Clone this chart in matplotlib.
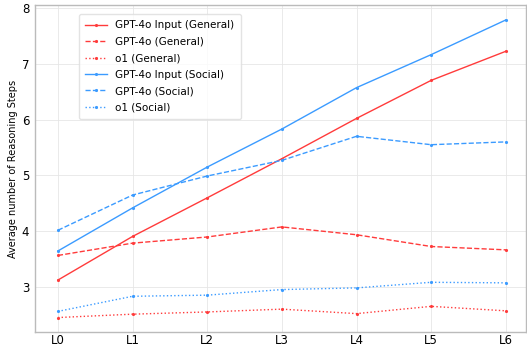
import matplotlib
matplotlib.use('Agg')
import matplotlib.pyplot as plt

levels = ['L0', 'L1', 'L2', 'L3', 'L4', 'L5', 'L6']

gpt4o_input_general = [3.13, 3.91, 4.60, 5.30, 6.02, 6.70, 7.22]
gpt4o_general = [3.57, 3.79, 3.90, 4.08, 3.94, 3.73, 3.67]
o1_general = [2.46, 2.52, 2.56, 2.61, 2.53, 2.66, 2.58]
gpt4o_input_social = [3.65, 4.42, 5.15, 5.83, 6.57, 7.16, 7.78]
gpt4o_social = [4.02, 4.65, 4.99, 5.27, 5.70, 5.55, 5.60]
o1_social = [2.57, 2.84, 2.86, 2.96, 2.99, 3.09, 3.08]

red = '#ff3b3b'
blue = '#3b9bff'

fig = plt.figure(figsize=(5.27, 3.47), dpi=100)
ax = fig.add_axes([0.066, 0.043, 0.932, 0.943])

x = range(len(levels))
ax.plot(x, gpt4o_input_general, color=red, ls='-', marker='.', ms=2.5, lw=1.0,
        label='GPT-4o Input (General)')
ax.plot(x, gpt4o_general, color=red, ls='--', marker='.', ms=2.5, lw=1.0,
        label='GPT-4o (General)')
ax.plot(x, o1_general, color=red, ls=':', marker='.', ms=2.5, lw=1.0,
        label='o1 (General)')
ax.plot(x, gpt4o_input_social, color=blue, ls='-', marker='.', ms=2.5, lw=1.0,
        label='GPT-4o Input (Social)')
ax.plot(x, gpt4o_social, color=blue, ls='--', marker='.', ms=2.5, lw=1.0,
        label='GPT-4o (Social)')
ax.plot(x, o1_social, color=blue, ls=':', marker='.', ms=2.5, lw=1.0,
        label='o1 (Social)')

ax.set_xticks(list(x))
ax.set_xticklabels(levels)
ax.set_yticks([3, 4, 5, 6, 7, 8])
ax.set_xlim(-0.31, 6.27)
ax.set_ylim(2.2, 8.05)
ax.set_ylabel('Average number of Reasoning Steps', fontsize=7, labelpad=3)
ax.tick_params(axis='both', length=0, labelsize=8.5)
ax.tick_params(axis='x', pad=1.5)
ax.tick_params(axis='y', pad=4)
ax.grid(True, color='#e6e6e6', lw=0.6)
for s in ax.spines.values():
    s.set_color('#bbbbbb')
    s.set_linewidth(1.0)

ax.legend(loc='upper left', bbox_to_anchor=(0.079, 0.988), fontsize=7.5,
          frameon=True, edgecolor='#dddddd', handlelength=2.1,
          labelspacing=0.62, borderpad=0.6, handletextpad=0.8)

plt.savefig('out.png', dpi=100)
